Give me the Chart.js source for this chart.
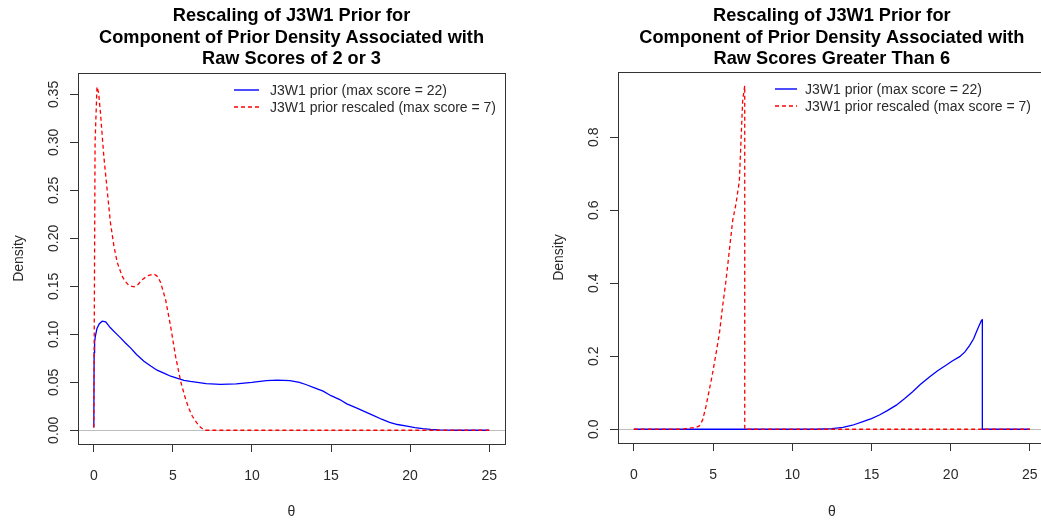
<!DOCTYPE html>
<html>
<head>
<meta charset="utf-8">
<script src="https://cdn.jsdelivr.net/npm/chart.js@4.4.1/dist/chart.umd.min.js"></script>
<style>
  html, body { margin: 0; padding: 0; background: #fff; overflow: hidden; }
  body { width: 1041px; height: 523px; position: relative; }
  .panel { position: absolute; top: 0; }
  #left { left: 0; }
  #right { left: 520px; }
</style>
</head>
<body>
<div class="panel" id="left"><canvas id="lowScores" width="520" height="523"></canvas></div>
<div class="panel" id="right"><canvas id="highScores" width="540" height="523"></canvas></div>
<script>
const FONT = '"Liberation Sans", Arial, Helvetica, sans-serif';
const INK = '#2a2a2a';

const xTicks = [0, 5, 10, 15, 20, 25];
const yTicksLow = [0, 0.05, 0.10, 0.15, 0.20, 0.25, 0.30, 0.35];
const yTicksHigh = [0, 0.2, 0.4, 0.6, 0.8];

const seriesLabels = ['J3W1 prior (max score = 22)', 'J3W1 prior rescaled (max score = 7)'];
const seriesColors = ['#0000ff', '#ff0000'];
const titleLow = ['Rescaling of J3W1 Prior for', 'Component of Prior Density Associated with', 'Raw Scores of 2 or 3'];
const titleHigh = ['Rescaling of J3W1 Prior for', 'Component of Prior Density Associated with', 'Raw Scores Greater Than 6'];

// raw scores of 2 or 3
const thetaLowPrior = [0, 0.02, 0.05, 0.1, 0.2, 0.35, 0.53, 0.75, 1.05, 1.4, 1.69, 2.0, 2.32, 2.7, 3.17, 3.6, 4.0, 4.5,
  4.86, 5.3, 5.7, 6.1, 6.55, 7.1, 8.0, 9.0, 10.0, 10.9, 11.6, 12.4, 13.0, 13.4, 14.0, 14.5, 15.0, 15.55, 16.0, 16.6,
  17.2, 17.7, 18.2, 18.7, 19.2, 19.8, 20.3, 20.8, 21.3, 21.8, 22.5, 23, 25];
const densLowPrior = [0.003, 0.081, 0.092, 0.098, 0.106, 0.111, 0.1137, 0.113, 0.1068, 0.101, 0.0963, 0.091, 0.0859,
  0.079, 0.072, 0.067, 0.0626, 0.059, 0.0563, 0.054, 0.0521, 0.051, 0.050, 0.0485, 0.0478, 0.0484, 0.050, 0.0518,
  0.0522, 0.0518, 0.050, 0.0477, 0.044, 0.0407, 0.036, 0.032, 0.0275, 0.0233, 0.019, 0.0153, 0.0115, 0.0083, 0.006,
  0.0042, 0.0028, 0.0018, 0.001, 0.0005, 0.0002, 0, 0];
const thetaLowRescaled = [0, 0.08, 0.2, 0.3, 0.42, 0.63, 0.84, 1.05, 1.27, 1.48, 1.79, 2.0, 2.22, 2.54, 2.8, 3.06, 3.4,
  3.8, 4.05, 4.23, 4.54, 4.86, 5.17, 5.49, 5.81, 6.04, 6.23, 6.5, 6.75, 7.0, 25];
const densLowRescaled = [0.003, 0.30, 0.358, 0.352, 0.331, 0.286, 0.251, 0.2166, 0.192, 0.175, 0.1606, 0.155, 0.1509,
  0.1495, 0.152, 0.157, 0.161, 0.163, 0.160, 0.1537, 0.136, 0.108, 0.077, 0.051, 0.032, 0.0216, 0.0146, 0.008, 0.003, 0, 0];

// raw scores greater than 6
const thetaHighPrior = [0, 11.5, 12.5, 13.2, 13.8, 14.46, 15.0, 15.5, 16.0, 16.57, 17.1, 17.6, 18.1, 18.68, 19.2, 19.73,
  20.1, 20.57, 20.9, 21.2, 21.45, 21.63, 21.8, 21.95, 22, 22, 25];
const densHighPrior = [0, 0, 0.002, 0.005, 0.011, 0.021, 0.029, 0.039, 0.051, 0.066, 0.084, 0.103, 0.123, 0.144, 0.161,
  0.176, 0.187, 0.199, 0.212, 0.23, 0.248, 0.267, 0.284, 0.299, 0.30, 0, 0];
const thetaHighRescaled = [0, 3.0, 3.5, 3.9, 4.13, 4.34, 4.55, 4.76, 4.97, 5.19, 5.4, 5.6, 5.82, 6.03, 6.24, 6.45, 6.66,
  6.87, 7.0, 7.0, 25];
const densHighRescaled = [0, 0, 0.003, 0.005, 0.009, 0.025, 0.062, 0.107, 0.153, 0.208, 0.262, 0.335, 0.408, 0.49,
  0.572, 0.618, 0.68, 0.90, 0.941, 0, 0];

const pts = (xs, ys) => xs.map((x, i) => ({ x, y: ys[i] }));

// plot range like R: data range widened by 4% each side
function rLim(vals) {
  const lo = Math.min(...vals), hi = Math.max(...vals), d = (hi - lo) * 0.04;
  return [lo - d, hi + d];
}

// zero line, box around the plot region, and a borderless legend
const rFrame = {
  id: 'rFrame',
  beforeDatasetsDraw(chart) {
    const { ctx, chartArea: a, scales: { y } } = chart;
    const y0 = Math.round(y.getPixelForValue(0)) + 0.5;
    ctx.save();
    ctx.strokeStyle = '#bebebe';
    ctx.lineWidth = 1;
    ctx.beginPath();
    ctx.moveTo(a.left, y0);
    ctx.lineTo(a.right, y0);
    ctx.stroke();
    ctx.restore();
  },
  afterDatasetsDraw(chart) {
    const { ctx, chartArea: a } = chart;
    ctx.save();
    ctx.strokeStyle = '#333';
    ctx.lineWidth = 1;
    ctx.strokeRect(Math.round(a.left) + 0.5, Math.round(a.top) + 0.5,
      Math.round(a.right - a.left), Math.round(a.bottom - a.top));
    ctx.restore();
  },
  afterDraw(chart, args, lg) {
    const { ctx, chartArea: a } = chart;
    ctx.save();
    chart.data.datasets.forEach((ds, i) => {
      const yy = Math.round(a.top + lg.top + i * lg.rowH);
      const x0 = a.left + lg.left;
      ctx.strokeStyle = seriesColors[i];
      ctx.lineWidth = 1.4;
      ctx.setLineDash(ds.borderDash || []);
      ctx.beginPath();
      ctx.moveTo(x0, yy);
      ctx.lineTo(x0 + lg.lineLen, yy);
      ctx.stroke();
      ctx.setLineDash([]);
      ctx.fillStyle = INK;
      ctx.font = '14px ' + FONT;
      ctx.textBaseline = 'middle';
      ctx.fillText(ds.label, x0 + lg.lineLen + lg.gap, yy + 1.5);
    });
    ctx.restore();
  }
};

function densityChart(id, o) {
  const xl = rLim(o.thetas.flat());
  const yl = rLim(o.dens.flat());
  const axisFont = { family: FONT, size: 14 };
  return new Chart(document.getElementById(id), {
    type: 'scatter',
    data: {
      datasets: [
        { label: seriesLabels[0], data: pts(o.thetas[0], o.dens[0]), showLine: true,
          borderColor: seriesColors[0], borderWidth: 1.3, order: 1 },
        { label: seriesLabels[1], data: pts(o.thetas[1], o.dens[1]), showLine: true,
          borderColor: seriesColors[1], borderWidth: 1.3, borderDash: [4, 3], order: 0 }
      ]
    },
    options: {
      responsive: false,
      animation: false,
      events: [],
      elements: { point: { radius: 0 }, line: { tension: 0 } },
      layout: { padding: { left: 0, right: o.padRight, top: 0, bottom: 0 } },
      plugins: {
        legend: { display: false },
        tooltip: { enabled: false },
        title: {
          display: true, text: o.title, fullSize: false, color: '#000',
          font: { family: FONT, size: 18.2, weight: 'bold', lineHeight: 1.18 },
          padding: { top: 5.6, bottom: o.titleGap }
        },
        rFrame: o.legend
      },
      scales: {
        x: {
          type: 'linear', bounds: 'data', min: xl[0], max: xl[1],
          afterBuildTicks: s => { s.ticks = xTicks.map(v => ({ value: v })); },
          afterFit: s => { s.height = o.xHeight; },
          grid: { drawOnChartArea: false, drawTicks: true, tickLength: 8, color: '#333' },
          border: { display: false },
          ticks: { padding: 15.5, color: INK, font: axisFont, maxRotation: 0, autoSkip: false,
            callback: v => String(v) },
          title: { display: true, text: 'θ', color: INK, font: axisFont, padding: { top: 0, bottom: 2 } }
        },
        y: {
          type: 'linear', bounds: 'data', min: yl[0], max: yl[1],
          afterBuildTicks: s => { s.ticks = o.yTicks.map(v => ({ value: v })); },
          afterFit: s => { s.width = o.yWidth; },
          grid: { drawOnChartArea: false, drawTicks: true, tickLength: 8, color: '#333' },
          border: { display: false },
          ticks: { minRotation: 90, maxRotation: 90, crossAlign: 'center', padding: o.yPad, autoSkip: false,
            color: INK, font: axisFont, callback: v => v.toFixed(o.digits) },
          title: { display: true, text: 'Density', color: INK, font: axisFont,
            padding: { top: o.yTitlePad, bottom: 0 } }
        }
      }
    },
    plugins: [rFrame]
  });
}

densityChart('lowScores', {
  title: titleLow,
  thetas: [thetaLowPrior, thetaLowRescaled],
  dens: [densLowPrior, densLowRescaled],
  yTicks: yTicksLow, digits: 2,
  yWidth: 78, yPad: 1.8, yTitlePad: 10.5,
  xHeight: 79, padRight: 15, titleGap: 3,
  legend: { left: 156, top: 17, rowH: 16.5, lineLen: 25, gap: 11 }
});

densityChart('highScores', {
  title: titleHigh,
  thetas: [thetaHighPrior, thetaHighRescaled],
  dens: [densHighPrior, densHighRescaled],
  yTicks: yTicksHigh, digits: 1,
  yWidth: 98, yPad: 6, yTitlePad: 30.5,
  xHeight: 80, padRight: 14.3, titleGap: 2,
  legend: { left: 157, top: 17, rowH: 16.5, lineLen: 22, gap: 8 }
});
</script>
</body>
</html>
